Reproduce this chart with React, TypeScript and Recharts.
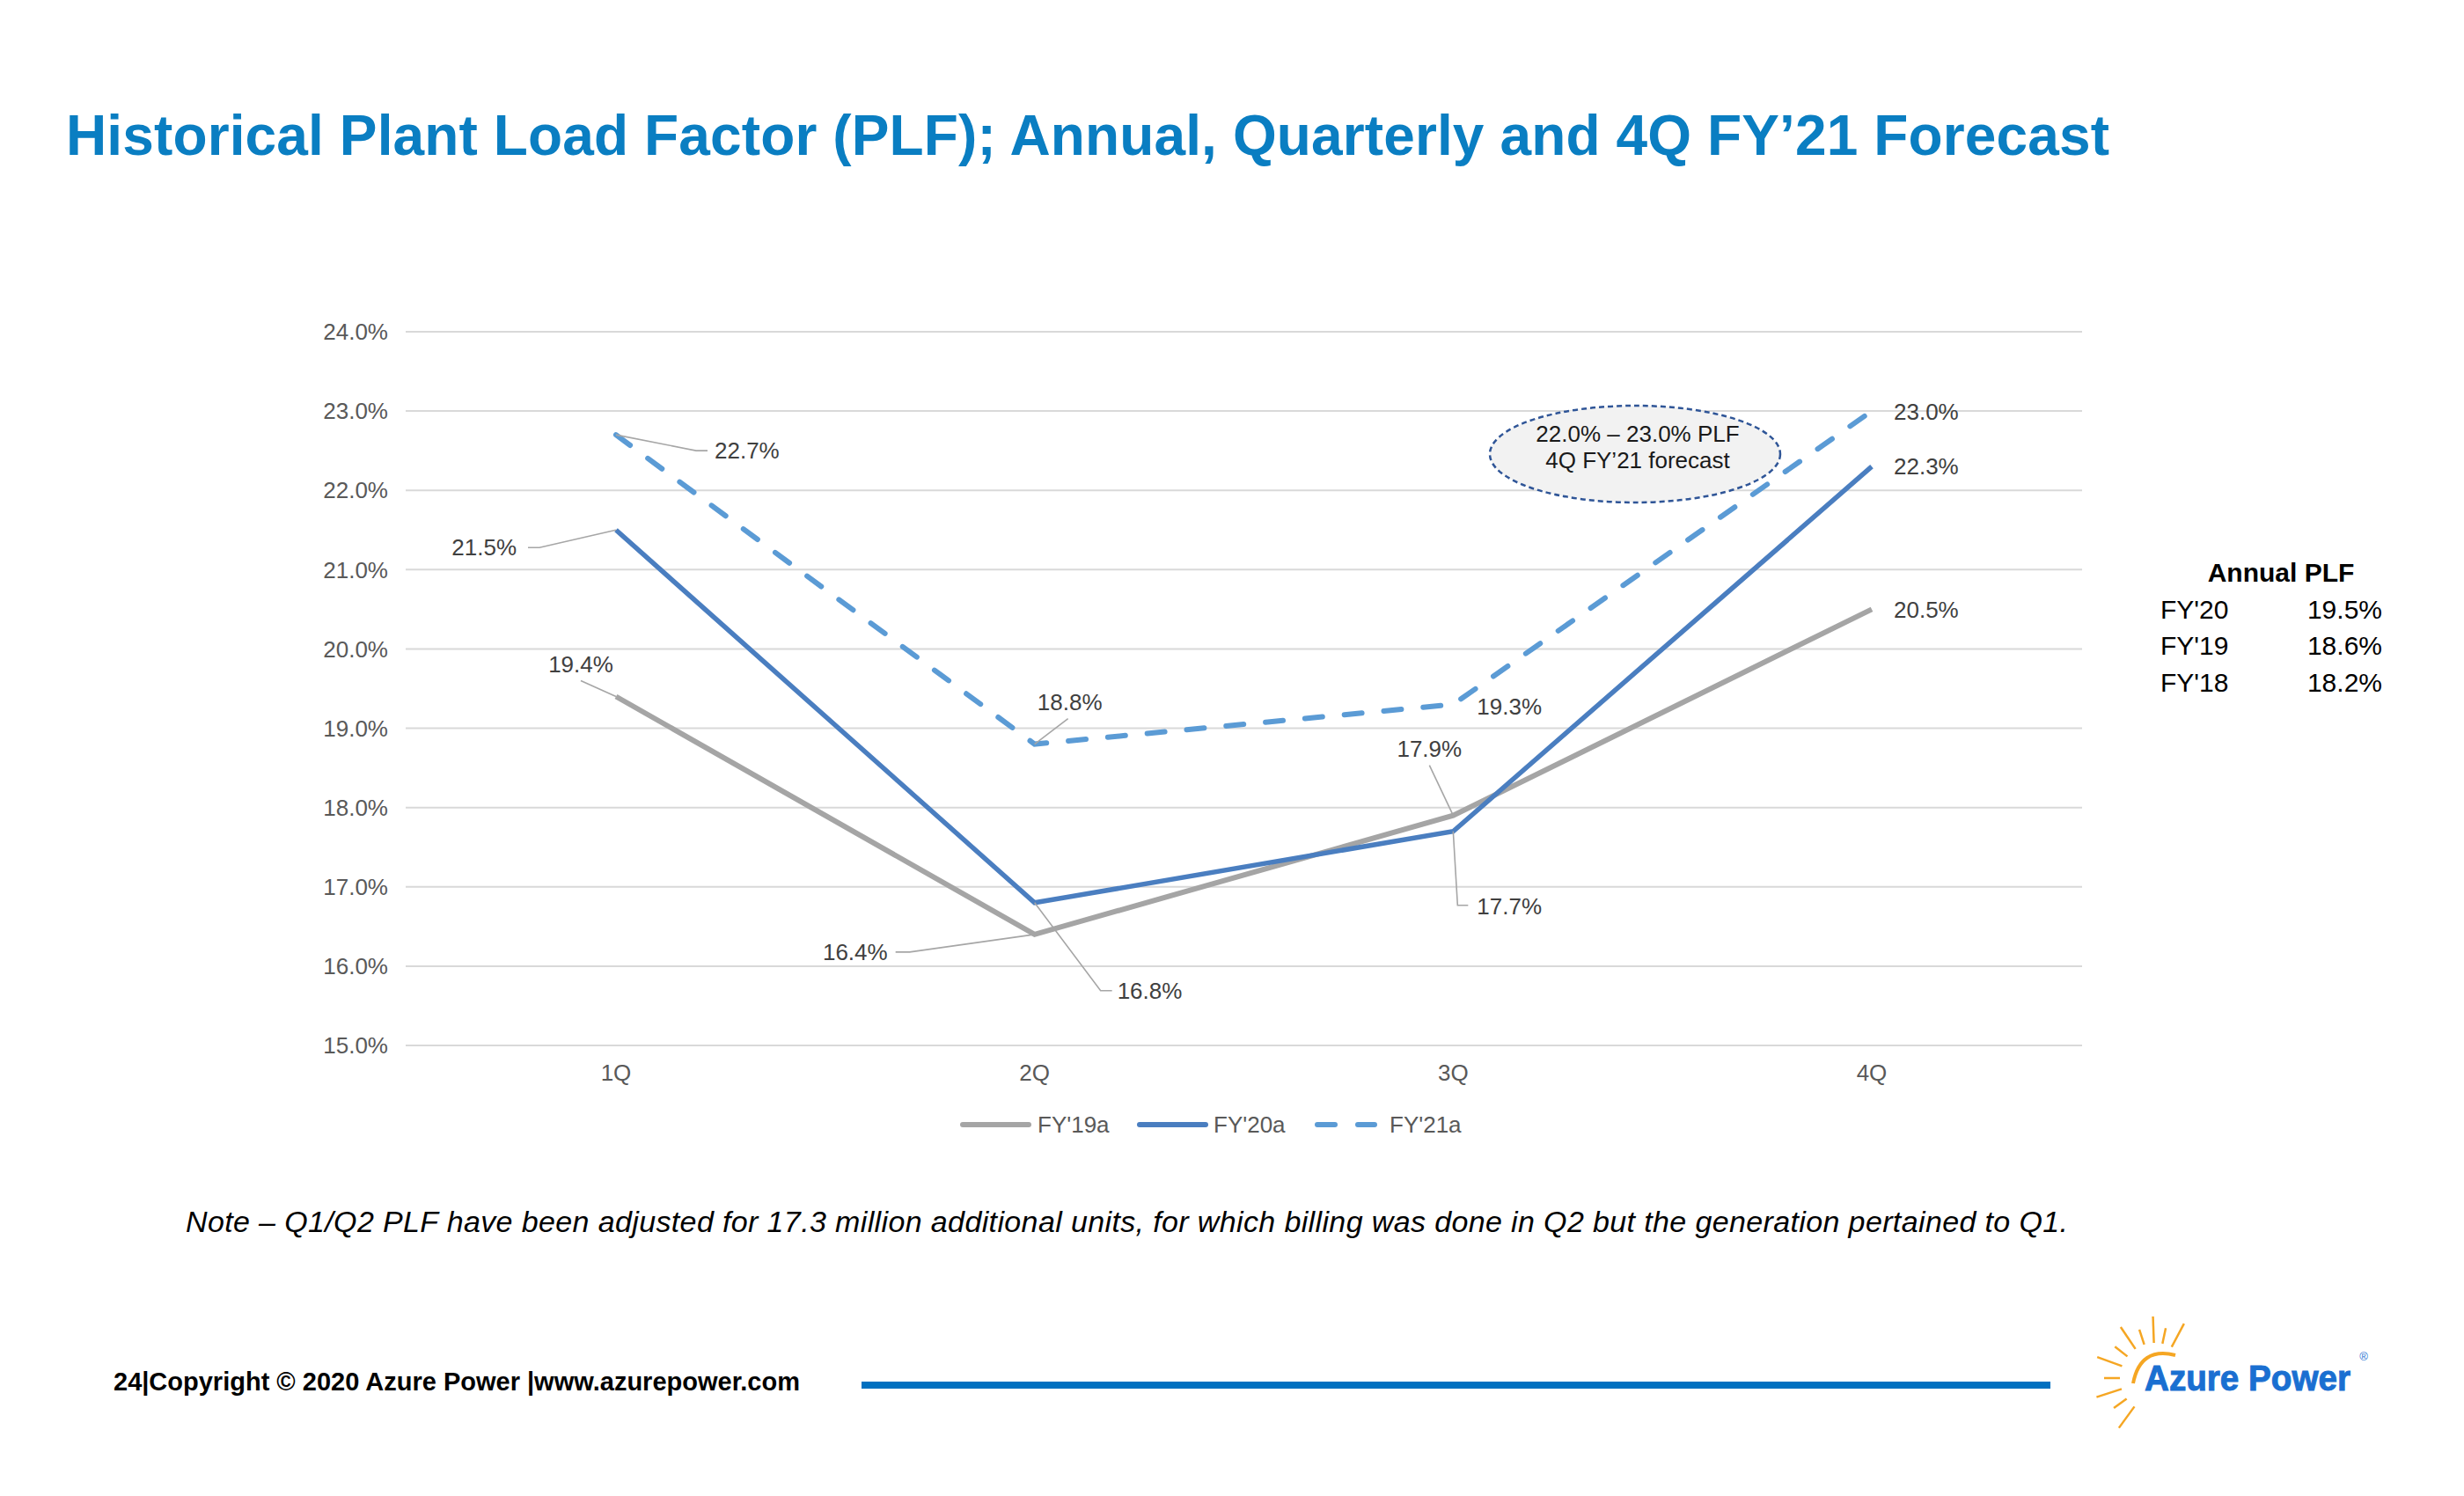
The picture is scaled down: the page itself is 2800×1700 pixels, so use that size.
import { LineChart, Line, XAxis, YAxis, CartesianGrid, LabelList } from "recharts";

const quarters = ["1Q", "2Q", "3Q", "4Q"];
const fy19 = [19.4, 16.4, 17.9, 20.5];
const fy20 = [21.5, 16.8, 17.7, 22.3];
const fy21 = [22.7, 18.8, 19.3, 23.0];
const yTicks = [15, 16, 17, 18, 19, 20, 21, 22, 23, 24];
const annualYears = ["FY'20", "FY'19", "FY'18"];
const annualPlf = [19.5, 18.6, 18.2];

const data = quarters.map((q, i) => ({ q, fy19: fy19[i], fy20: fy20[i], fy21: fy21[i] }));

const FONT = "'Liberation Sans', Arial, sans-serif";
const GRAY = "#A5A5A5";
const BLUE = "#4A7EC0";
const LIGHT = "#5B9BD5";

// where each data label sits relative to its point (Excel-style leader lines)
type Place = { dx: number; dy: number; anchor: "start" | "middle" | "end"; leader?: number[][] };
const labelPlaces: Record<string, Place[]> = {
  fy21: [
    { dx: 112, dy: 18, anchor: "start", leader: [[91, 18], [104, 18]] },
    { dx: 40, dy: -48, anchor: "middle", leader: [[38, -29]] },
    { dx: 27, dy: 2, anchor: "start" },
    { dx: 25, dy: 1, anchor: "start" },
  ],
  fy20: [
    { dx: -113, dy: 20, anchor: "end", leader: [[-87, 20], [-100, 20]] },
    { dx: 94, dy: 100, anchor: "start", leader: [[75, 100], [88, 100]] },
    { dx: 27, dy: 85, anchor: "start", leader: [[5, 84], [17, 84]] },
    { dx: 25, dy: 0, anchor: "start" },
  ],
  fy19: [
    { dx: -40, dy: -37, anchor: "middle", leader: [[-40, -18]] },
    { dx: -167, dy: 20, anchor: "end", leader: [[-142, 20], [-158, 20]] },
    { dx: -27, dy: -76, anchor: "middle", leader: [[-27, -57]] },
    { dx: 25, dy: 1, anchor: "start" },
  ],
};

const makeLabel = (key: string) => (props: any) => {
  const { x, y, value, index } = props;
  const p = labelPlaces[key][index];
  if (!p) return null;
  const pts = [[x, y], ...(p.leader ?? []).map(([a, b]) => [x + a, y + b])];
  return (
    <g key={`${key}-${index}`}>
      {p.leader && (
        <polyline
          points={pts.map((q) => q.join(",")).join(" ")}
          fill="none"
          stroke="#A6A6A6"
          strokeWidth={1.6}
        />
      )}
      <text
        x={x + p.dx}
        y={y + p.dy}
        dy="0.35em"
        textAnchor={p.anchor}
        fontSize={26}
        fontFamily={FONT}
        fill="#404040"
      >
        {Number(value).toFixed(1)}%
      </text>
    </g>
  );
};

const rays = [62, 78, 92, 108, 124, 142, 160, 180, 198, 216, 234];

function Logo() {
  const cx = 2449;
  const cy = 1566;
  return (
    <g>
      {rays.map((a, i) => {
        const r = (a * Math.PI) / 180;
        const r1 = 40;
        const r2 = i % 2 === 0 ? 70 : 58;
        return (
          <line
            key={a}
            x1={cx + r1 * Math.cos(r)}
            y1={cy - r1 * Math.sin(r)}
            x2={cx + r2 * Math.cos(r)}
            y2={cy - r2 * Math.sin(r)}
            stroke="#F5A623"
            strokeWidth={2.5}
          />
        );
      })}
      <path d="M2424 1572 Q2432 1530 2472 1540" fill="none" stroke="#F5A623" strokeWidth={4} />
      <text
        x={2437}
        y={1580}
        fontSize={40}
        fontWeight="bold"
        fontFamily={FONT}
        fill="#1A6FD1"
        stroke="#1A6FD1"
        strokeWidth={1}
        textLength={234}
        lengthAdjust="spacingAndGlyphs"
      >
        Azure Power
      </text>
      <text x={2686} y={1546} fontSize={13} fontFamily={FONT} fill="#1A6FD1" textAnchor="middle">
        ®
      </text>
    </g>
  );
}

export default function App() {
  return (
    <div
      style={{
        position: "absolute",
        left: 0,
        top: 0,
        width: 2800,
        height: 1700,
        background: "#fff",
        fontFamily: FONT,
      }}
    >
      <div style={{ position: "absolute", left: 0, top: 0 }}>
        <LineChart
          width={2800}
          height={1700}
          data={data}
          margin={{ top: 377, right: 434, bottom: 472, left: 361 }}
        >
          <CartesianGrid vertical={false} stroke="#D9D9D9" strokeWidth={2} />
          <XAxis
            dataKey="q"
            height={40}
            axisLine={false}
            tickLine={false}
            tickSize={0}
            tickMargin={22}
            padding={{ left: 239, right: 239 }}
            tick={{ fill: "#595959", fontSize: 26, fontFamily: FONT }}
          />
          <YAxis
            width={100}
            domain={[15, 24]}
            ticks={yTicks}
            axisLine={false}
            tickLine={false}
            tickSize={0}
            tickMargin={20}
            tickFormatter={(v: number) => `${v.toFixed(1)}%`}
            tick={{ fill: "#595959", fontSize: 26, fontFamily: FONT }}
          />
          <Line
            dataKey="fy19"
            name="FY'19a"
            stroke={GRAY}
            strokeWidth={6}
            dot={false}
            activeDot={false}
            isAnimationActive={false}
          >
            <LabelList dataKey="fy19" content={makeLabel("fy19")} />
          </Line>
          <Line
            dataKey="fy20"
            name="FY'20a"
            stroke={BLUE}
            strokeWidth={5.5}
            dot={false}
            activeDot={false}
            isAnimationActive={false}
          >
            <LabelList dataKey="fy20" content={makeLabel("fy20")} />
          </Line>
          <Line
            dataKey="fy21"
            name="FY'21a"
            stroke={LIGHT}
            strokeWidth={6}
            strokeDasharray="20 25"
            strokeLinecap="round"
            dot={false}
            activeDot={false}
            isAnimationActive={false}
          >
            <LabelList dataKey="fy21" content={makeLabel("fy21")} />
          </Line>
        </LineChart>
      </div>

      <svg
        width={2800}
        height={1700}
        style={{ position: "absolute", left: 0, top: 0, pointerEvents: "none" }}
        fontFamily={FONT}
      >
        <text x={75} y={176} fontSize={64} fontWeight="bold" fill="#0A7EC2" textLength={2322}>
          Historical Plant Load Factor (PLF); Annual, Quarterly and 4Q FY’21 Forecast
        </text>

        {/* forecast call-out */}
        <ellipse
          cx={1858}
          cy={516}
          rx={165}
          ry={55}
          fill="#F2F2F2"
          stroke="#2F5597"
          strokeWidth={2.5}
          strokeDasharray="6 4"
        />
        <text x={1861} y={493} dy="0.35em" fontSize={26} textAnchor="middle" fill="#1a1a1a">
          22.0% – 23.0% PLF
        </text>
        <text x={1861} y={523} dy="0.35em" fontSize={26} textAnchor="middle" fill="#1a1a1a">
          4Q FY’21 forecast
        </text>

        {/* legend */}
        <g fontSize={26} fill="#595959">
          <line x1={1094} y1={1278} x2={1169} y2={1278} stroke={GRAY} strokeWidth={6} strokeLinecap="round" />
          <text x={1179} y={1278} dy="0.35em">FY'19a</text>
          <line x1={1295} y1={1278} x2={1370} y2={1278} stroke={BLUE} strokeWidth={6} strokeLinecap="round" />
          <text x={1379} y={1278} dy="0.35em">FY'20a</text>
          <line
            x1={1497}
            y1={1278}
            x2={1562}
            y2={1278}
            stroke={LIGHT}
            strokeWidth={6}
            strokeLinecap="round"
            strokeDasharray="20 26"
          />
          <text x={1579} y={1278} dy="0.35em">FY'21a</text>
        </g>

        {/* annual PLF table */}
        <text x={2592} y={650} dy="0.35em" fontSize={30} fontWeight="bold" textAnchor="middle" fill="#000">
          Annual PLF
        </text>
        {annualYears.map((yr, i) => (
          <g key={yr} fontSize={30} fill="#000">
            <text x={2455} y={692 + i * 41.5} dy="0.35em">
              {yr}
            </text>
            <text x={2707} y={692 + i * 41.5} dy="0.35em" textAnchor="end">
              {annualPlf[i].toFixed(1)}%
            </text>
          </g>
        ))}

        <text
          x={211}
          y={1388}
          dy="0.35em"
          fontSize={34}
          fontStyle="italic"
          fill="#000"
          textLength={2139}
        >
          Note – Q1/Q2 PLF have been adjusted for 17.3 million additional units, for which billing was done in Q2 but the
          generation pertained to Q1.
        </text>

        <text x={129} y={1570} dy="0.35em" fontSize={29} fontWeight="bold" fill="#000">
          24|Copyright © 2020 Azure Power |www.azurepower.com
        </text>
        <rect x={979} y={1570} width={1351} height={8} fill="#0070C0" />

        <Logo />
      </svg>
    </div>
  );
}
